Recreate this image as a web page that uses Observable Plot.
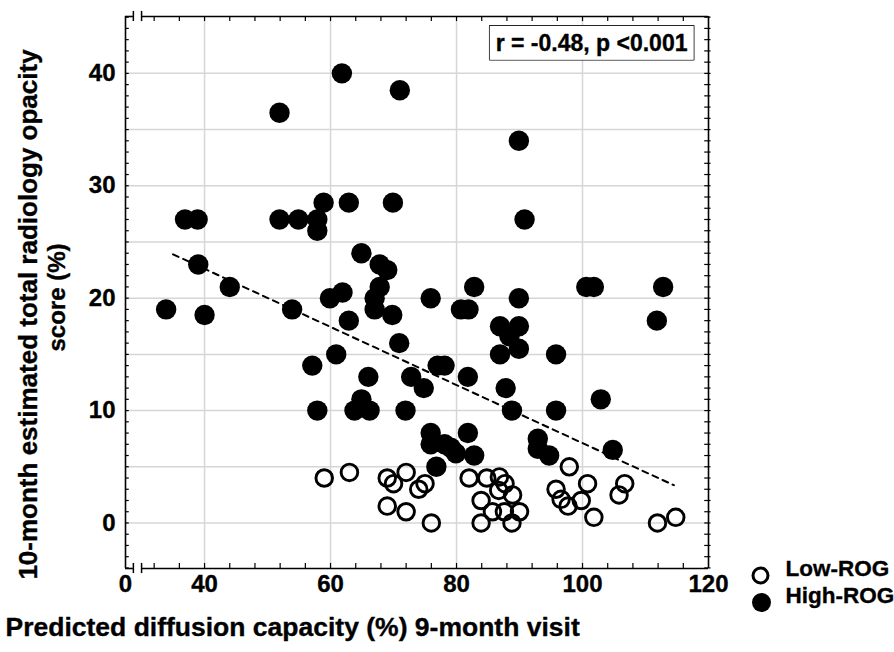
<!DOCTYPE html>
<html><head><meta charset="utf-8">
<script src="https://cdn.jsdelivr.net/npm/d3@7"></script>
<script src="https://cdn.jsdelivr.net/npm/@observablehq/plot@0.6"></script>
<style>
body{margin:0;background:#fff;}
#chart svg{font-family:"Liberation Sans",Arial,sans-serif;font-weight:bold;background:#fff;}
</style></head><body><div id="chart"></div>
<script>
// ---- data ----
const lowX = [59,63,69,70,72,74,75,69,72,76,82,84.8,86.8,87.7,86.7,88.9,83.9,85.7,87.6,90,83.9,88.8,97.9,95.8,96.6,97.7,99.8,100.8,101.8,106.7,105.8,111.9,114.8];
const lowY = [4,4.5,4,3.5,4.5,3,3.5,1.5,1,0,4,4,4.1,3.5,2.9,2.5,2,1,1,1,0,0,5,3,2.1,1.5,2,3.5,0.5,3.5,2.5,0,0.5];
const highX = [61.8,71,51.9,89.9,36.9,38.9,51.9,54.9,57.9,57.9,58.9,62.9,69.9,90.8,64.9,67.8,69,39,44,33.9,40,53.9,59.9,61.9,62.9,67.8,67,67,69.8,70.9,75.9,82.8,80.7,81.9,89.9,86.9,89.9,88.4,89.9,86.9,95.8,100.6,101.8,112.8,111.8,60.9,57.1,66,57.9,64.9,63.8,66.2,72.8,74.8,71.9,77,78.1,81.8,87.8,88.8,95.8,102.9,75.9,75.9,78.1,79.1,79.9,76.8,81.8,82.8,92.9,92.9,94.7,104.8];
const highY = [40,38.5,36.5,34,27,27,27,27,27,26,28.5,28.5,28.5,27,24,23,22.5,23,21,19,18.5,19,20,20.5,18,21,20,19,18.5,16,20,21,19,19,20,17.5,17.5,16.6,15.5,15,15,21,21,21,18,15,14,13,10,11,10,10,13,12,10,14,14,13,12,10,10,11,8,7,7,6.7,6.2,5,8,6,7.5,6.6,6,6.5];
const fitX = [35, 114.5];
const fitY = [23.9, 3.36];
const seriesNames = ["Low-ROG", "High-ROG"];
const xDomain = [27.45, 120];
const yDomain = [-4.05, 45.06];
const xTickValues = [27.45, 40, 60, 80, 100, 120];
const xTickLabels = ["0", "40", "60", "80", "100", "120"];
const yTickValues = [0, 10, 20, 30, 40];
const yTickLabels = ["0", "10", "20", "30", "40"];
const xGridValues = [40, 60, 80, 100];
const yGridValues = [0, 5, 10, 15, 20, 25, 30, 35, 40];
const xMinorTicks = d3.range(32, 120, 4);
const yMinorTicks = d3.range(-4, 46, 1);
const xBreaks = [28.7, 30.0];
const annotation = "r = -0.48, p <0.001";
const xTitle = "Predicted diffusion capacity (%) 9-month visit";
const yTitleLines = ["10-month estimated total radiology opacity", "score (%)"];

const low = lowX.map((x, i) => ({x, y: lowY[i], group: seriesNames[0]}));
const high = highX.map((x, i) => ({x, y: highY[i], group: seriesNames[1]}));
const fit = fitX.map((x, i) => ({x, y: fitY[i]}));

const [x0, x1] = xDomain, [y0, y1] = yDomain;
const ink = "#000";
const grid = "#d6d6d6";
const heavy = {fill: ink, stroke: ink, strokeWidth: 0.35, fontWeight: "bold"};

const plot = Plot.plot({
  width: 894, height: 652,
  marginLeft: 125, marginRight: 186, marginTop: 16, marginBottom: 84,
  x: {domain: xDomain, axis: null},
  y: {domain: yDomain, axis: null},
  marks: [
    Plot.ruleX(xGridValues, {stroke: grid, strokeWidth: 1.5}),
    Plot.ruleY(yGridValues, {stroke: grid, strokeWidth: 1.5}),
    // frame with x-axis break
    Plot.ruleX([x0, x1], {y1: y0, y2: y1, stroke: ink, strokeWidth: 1.6}),
    Plot.ruleY([y0, y1], {x1: x0, x2: xBreaks[0], stroke: ink, strokeWidth: 1.6}),
    Plot.ruleY([y0, y1], {x1: xBreaks[1], x2: x1, stroke: ink, strokeWidth: 1.6}),
    Plot.ruleX(xBreaks, {y1: y0 - 0.45, y2: y0 + 0.45, stroke: ink, strokeWidth: 1.5}),
    Plot.ruleX(xBreaks, {y1: y1 - 0.45, y2: y1 + 0.45, stroke: ink, strokeWidth: 1.5}),
    // minor ticks
    Plot.ruleX(xMinorTicks, {y1: y0, y2: y0 + 0.45, stroke: ink, strokeWidth: 1.2}),
    Plot.ruleX(xMinorTicks, {y1: y1 - 0.45, y2: y1, stroke: ink, strokeWidth: 1.2}),
    Plot.ruleY(yMinorTicks, {x1: x0, x2: x0 + 0.6, stroke: ink, strokeWidth: 1.2}),
    Plot.ruleY(yMinorTicks, {x1: x1 - 0.6, x2: x1 + 0.4, stroke: ink, strokeWidth: 1.2}),
    // tick labels
    Plot.text(xTickValues, {x: d => d, text: (d, i) => xTickLabels[i], frameAnchor: "bottom", dy: 23, fontSize: 24, ...heavy}),
    Plot.text(yTickValues, {y: d => d, text: (d, i) => yTickLabels[i], frameAnchor: "left", textAnchor: "end", dx: -10, fontSize: 24, ...heavy}),
    // regression line
    Plot.line(fit, {x: "x", y: "y", stroke: ink, strokeWidth: 2, strokeDasharray: "6,5"}),
    // points
    Plot.dot(low, {x: "x", y: "y", r: 8.3, stroke: ink, strokeWidth: 2.9, fill: "none"}),
    Plot.dot(high, {x: "x", y: "y", r: 10.2, fill: ink, stroke: "none"}),
    // annotation
    Plot.text([annotation], {frameAnchor: "top-right", dx: -21, dy: 27, lineAnchor: "middle", fontSize: 23, ...heavy}),
    // legend
    Plot.dot([seriesNames[0]], {frameAnchor: "bottom-right", dx: 52, dy: 7, r: 7.5, stroke: ink, strokeWidth: 3, fill: "none"}),
    Plot.dot([seriesNames[1]], {frameAnchor: "bottom-right", dx: 53, dy: 34, r: 9.5, fill: ink}),
    Plot.text([seriesNames[0]], {text: d => d, frameAnchor: "bottom-right", textAnchor: "start", dx: 77, dy: 7, fontSize: 22.5, ...heavy}),
    Plot.text([seriesNames[1]], {text: d => d, frameAnchor: "bottom-right", textAnchor: "start", dx: 77, dy: 34, fontSize: 22.5, ...heavy}),
    // axis titles
    Plot.text([xTitle], {frameAnchor: "bottom-left", textAnchor: "start", dx: -120, dy: 67, fontSize: 26.5, ...heavy}),
    Plot.text([yTitleLines[0]], {frameAnchor: "left", textAnchor: "middle", rotate: -90, dx: -97, dy: 22, fontSize: 26, ...heavy}),
    Plot.text([yTitleLines[1]], {frameAnchor: "left", textAnchor: "middle", rotate: -90, dx: -68, dy: 5, fontSize: 24, ...heavy})
  ]
});
document.getElementById("chart").append(plot);

// box around annotation
const ann = Array.from(plot.querySelectorAll("text")).find(t => t.textContent === annotation);
if (ann) {
  const bb = ann.getBBox();
  const rect = document.createElementNS("http://www.w3.org/2000/svg", "rect");
  rect.setAttribute("x", bb.x - 6);
  rect.setAttribute("y", bb.y - 4);
  rect.setAttribute("width", bb.width + 12);
  rect.setAttribute("height", bb.height + 8);
  rect.setAttribute("fill", "#fff");
  rect.setAttribute("stroke", "#000");
  rect.setAttribute("stroke-width", 1.5);
  if (ann.getAttribute("transform")) rect.setAttribute("transform", ann.getAttribute("transform"));
  ann.parentNode.insertBefore(rect, ann);
}
</script></body></html>
